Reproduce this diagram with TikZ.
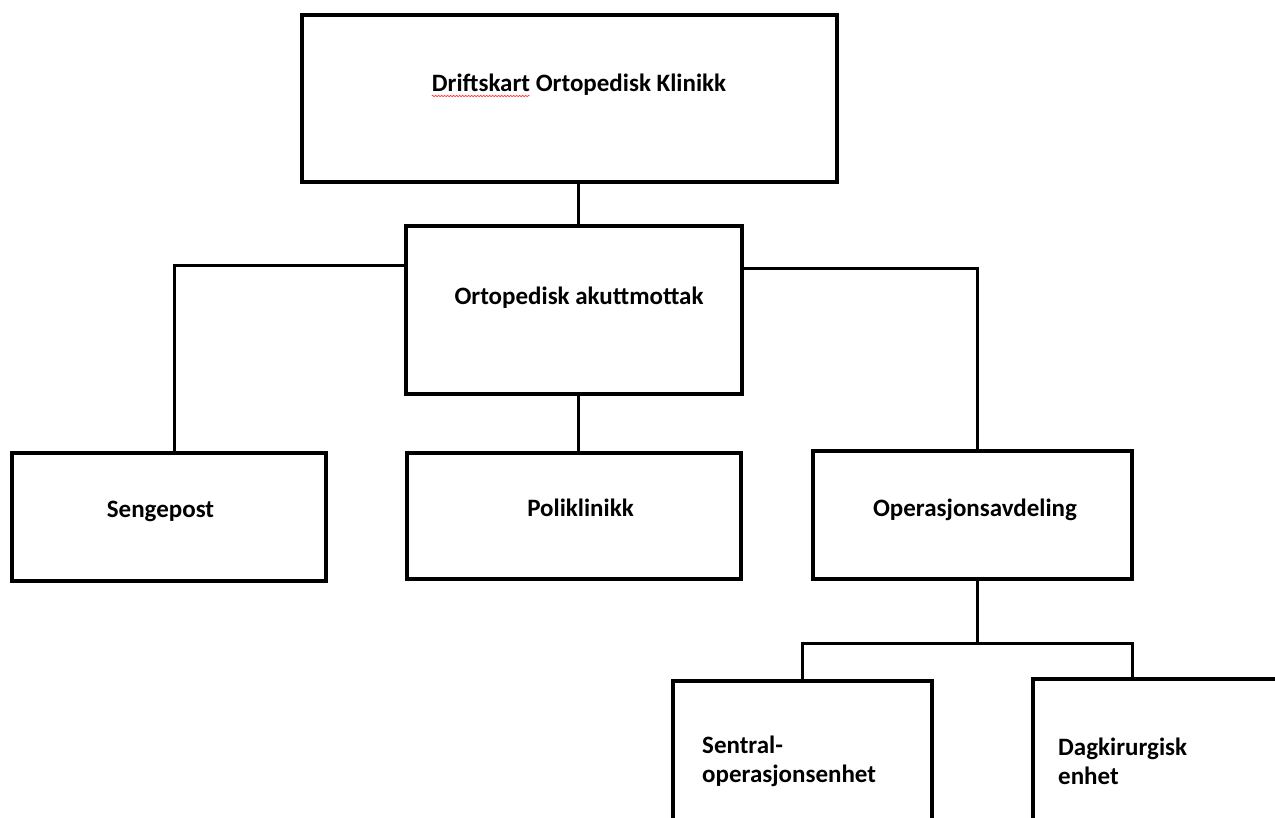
\documentclass[tikz,border=0pt]{standalone}
\usepackage{fontspec}
\setmainfont{Carlito}
\usetikzlibrary{positioning,decorations.pathmorphing}

\begin{document}
\begin{tikzpicture}[x=1pt, y=-1pt,
  box/.style={draw, line width=3.6pt, anchor=north west, inner sep=0pt, outer sep=0pt},
  conn/.style={line width=3pt},
  lbl/.style={font=\fontsize{25}{29}\selectfont\bfseries, inner sep=0pt}]

\clip (0,0) rectangle (1275,818);
\fill[white] (0,0) rectangle (1275,818);

% Connectors
\coordinate (spine) at (578,0);
\coordinate (fork) at (977,643);
\coordinate (dagtop) at (1132,679);

% Boxes
\node[box, line width=4.3pt, minimum width=535pt, minimum height=167pt] (top) at (302,15) {};
\node[box, minimum width=336pt, minimum height=168pt] (mid) at (406,226) {};
\node[box, minimum width=314pt, minimum height=128pt] (seng) at (12,453) {};
\node[box, minimum width=334pt, minimum height=126pt] (poli) at (407,453) {};
\node[box, minimum width=319pt, minimum height=128pt] (oper) at (813,451) {};
\node[box, minimum width=259pt, minimum height=220pt] (sentral) at (673,681) {};
\node[box, minimum width=297pt, minimum height=220pt] (dag) at (1033,679) {};

% Lines between boxes
\draw[conn] (top.south -| spine) -- (mid.north -| spine);
\draw[conn] (mid.south -| spine) -- (poli.north -| spine);
\draw[conn] ([yshift=44pt]mid.west) -| ([xshift=5pt]seng.north);
\draw[conn] ([yshift=41pt]mid.east) -| ([xshift=4.5pt]oper.north);
\draw[conn] (oper.south -| fork) -- (fork);
\draw[conn] (sentral.north) |- (dagtop |- fork) -- (dagtop);

% Labels
\node[lbl, anchor=base] (toptxt) at (579,92) {Driftskart Ortopedisk Klinikk};
\draw[red!75, line width=0.6pt, decorate, decoration={snake, amplitude=0.8pt, segment length=3pt}]
  ([yshift=-4pt]toptxt.base west) -- ++(98,0);
\node[lbl, anchor=base] (midtxt) at (579,305) {Ortopedisk akuttmottak};
\node[lbl, anchor=base] (sengtxt) at (160.5,517) {Sengepost};
\node[lbl, anchor=base] (politxt) at (580.5,516) {Poliklinikk};
\node[lbl, anchor=base] (opertxt) at (975,516) {Operasjonsavdeling};
\node[lbl, anchor=west, align=left] (sentraltxt) at (702,761) {Sentral-\\operasjonsenhet};
\node[lbl, anchor=west, align=left] (dagtxt) at (1058,761) {Dagkirurgisk\\enhet};

\end{tikzpicture}
\end{document}
